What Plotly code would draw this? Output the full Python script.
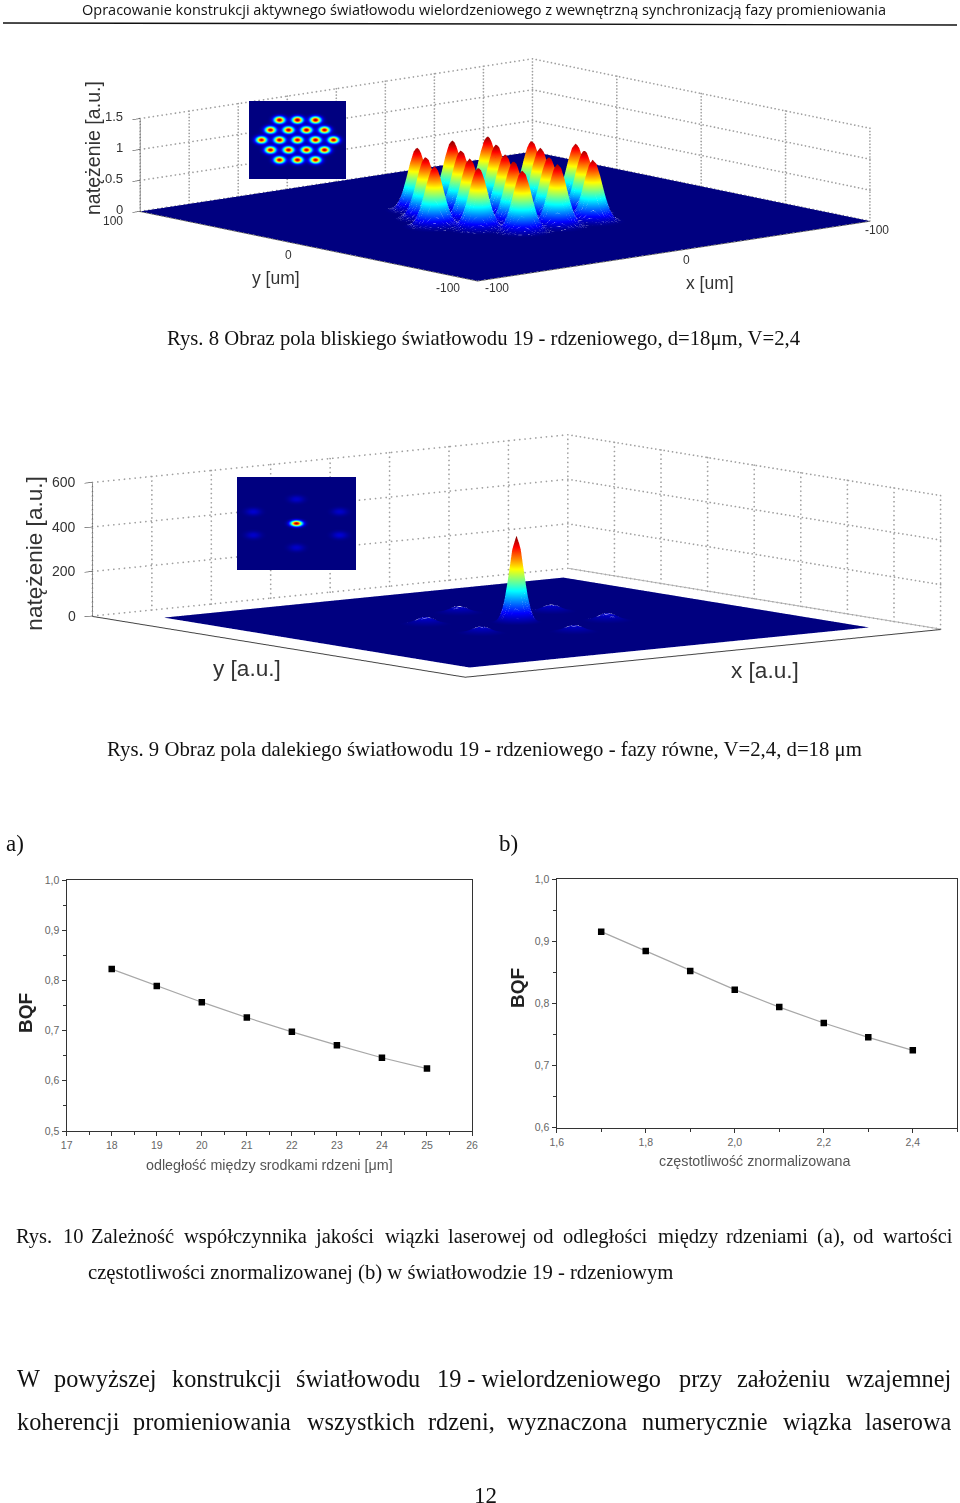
import numpy as np
import plotly.graph_objects as go

W, H = 960, 1503

# ---- chart a / b data
bqf_dist_x = [18, 19, 20, 21, 22, 23, 24, 25]
bqf_dist_y = [0.8225, 0.789, 0.7566, 0.726, 0.6975, 0.671, 0.646, 0.6243]
bqf_freq_x = [1.7, 1.8, 1.9, 2.0, 2.1, 2.2, 2.3, 2.4]
bqf_freq_y = [0.9153, 0.8842, 0.852, 0.822, 0.794, 0.7684, 0.7453, 0.7244]

# ---- near field: the 19 cores (um) and their peak heights (a.u.)
near_core_x = [-18, 0, 18, -27, -9, 9, 27, -36, -18, 0, 18, 36, -27, -9, 9, 27, -18, 0, 18]
near_core_y = [31.2, 31.2, 31.2, 15.6, 15.6, 15.6, 15.6, 0, 0, 0, 0, 0, -15.6, -15.6, -15.6, -15.6, -31.2, -31.2, -31.2]
near_core_h = [1.02, 1.05, 1.03, 1.0, 1.02, 1.03, 1.0, 0.98, 1.02, 1.0, 1.02, 1.0, 1.0, 1.02, 1.0, 1.02, 1.0, 1.02, 1.0]

# ---- far field: main lobe and six side lobes (a.u.)
far_lobe_x = [0, 26.5, 26.5, 0, -26.5, -26.5, 0]
far_lobe_y = [0, 15, -15, -31, -15, 15, 31]
far_lobe_h = [390, 30, 34, 30, 30, 32, 30]

near_x_ticks = list(range(-100, 101, 25))
near_y_ticks = list(range(-100, 101, 50))
near_z_ticks = [0, .5, 1, 1.5]
far_x_ticks = list(range(-100, 101, 25))
far_y_ticks = list(range(-100, 101, 25))
far_z_ticks = [0, 200, 400, 600]

MJET = [[0, "rgb(0,0,128)"], [.125, "rgb(0,0,255)"], [.375, "rgb(0,255,255)"],
        [.625, "rgb(255,255,0)"], [.875, "rgb(255,0,0)"], [1, "rgb(128,0,0)"]]


def field(gx, gy, cx, cy, h, s):
    X, Y = np.meshgrid(gx, gy)
    Z = np.zeros_like(X, dtype=float)
    for i, (a, b, c) in enumerate(zip(cx, cy, h)):
        sg = s[i] if isinstance(s, list) else s
        Z += c * np.exp(-((X - a) ** 2 + (Y - b) ** 2) / (2 * sg * sg))
    return np.round(Z, 4)


def gaps(z, top, step, low):
    """Open cells of the mesh: white specks on the lower flanks, as in the mesh plot."""
    I, J = np.indices(z.shape)
    r = z / top
    w = np.clip((0.5 - r) / 0.25, 0, 1) * (r > low)
    return np.round(w * ((I % step == 0) & ((J + (I // step) % 2) % step == 0)), 3)


near_g = np.arange(-100, 101, 1.0)
near_z = field(near_g, near_g, near_core_x, near_core_y, near_core_h, 3.6)
far_gx = np.arange(-84, 85, 1.0)
far_gy = np.arange(-82, 83, 1.0)
far_z = field(far_gx, far_gy, far_lobe_x, far_lobe_y, far_lobe_h, [2.4, 3.2, 3.2, 3.2, 3.2, 3.2, 3.2])

FLAT = dict(ambient=1, diffuse=0, specular=0, roughness=1, fresnel=0)
fig = go.Figure()


def px_dom(x0, x1, y0, y1):
    return dict(x=[x0 / W, x1 / W], y=[1 - y1 / H, 1 - y0 / H])


def eye(t_deg, e_deg, d):
    t, e = np.radians(t_deg), np.radians(e_deg)
    return dict(x=-d * np.cos(t) * np.cos(e), y=-d * np.sin(t) * np.cos(e), z=d * np.sin(e))


def ax3(rng, vals, line="#222", lw=1, ticks="", ticklen=0):
    return dict(range=rng, tickvals=vals, showticklabels=False, title=dict(text=""),
                showgrid=False, zeroline=False,
                showbackground=False, showline=True, linecolor=line, linewidth=lw,
                ticks=ticks, ticklen=ticklen, tickcolor="#222", showspikes=False, autorange=False)


def s_ann(x, y, z, text, xs=0, ys=0, size=13, angle=0, anchor="center"):
    return dict(x=x, y=y, z=z, text=text, showarrow=False, xshift=xs, yshift=ys, textangle=angle,
                xanchor=anchor, font=dict(family="Liberation Sans", size=size, color="#333"))


def walls(scene, xt, yt, zt, n=90):
    """Dotted grid on the two back walls, taken from the tick lists."""
    xs, ys, zs = [], [], []
    x1, y1 = xt[-1], yt[-1]
    zz = np.linspace(zt[0], zt[-1], n // 3)
    for v in xt:
        xs += [v] * len(zz); ys += [y1] * len(zz); zs += list(zz)
    for v in yt:
        xs += [x1] * len(zz); ys += [v] * len(zz); zs += list(zz)
    xx = np.linspace(xt[0], x1, n)
    yy = np.linspace(yt[0], y1, n)
    for v in zt:
        xs += list(xx); ys += [y1] * n; zs += [v] * n
        xs += [x1] * n; ys += list(yy); zs += [v] * n
    fig.add_trace(go.Scatter3d(x=xs, y=ys, z=zs, scene=scene, mode="markers", hoverinfo="skip",
                               marker=dict(color="#a0a0a0", size=1, line=dict(width=0))))


walls("scene", near_x_ticks, near_y_ticks, near_z_ticks)
walls("scene2", far_x_ticks, far_y_ticks, far_z_ticks)
fig.add_trace(go.Scatter3d(x=[far_x_ticks[-1]] * 2, y=[far_y_ticks[-1], far_y_ticks[0]], z=[0, 0], scene="scene2",
                           mode="lines", hoverinfo="skip", line=dict(color="#b5b5b5", width=2)))

# main surfaces
fig.add_trace(go.Surface(x=near_g, y=near_g, z=near_z, scene="scene", colorscale=MJET, cmin=0, cmax=1.05,
                         showscale=False, lighting=FLAT, hoverinfo="skip"))
fig.add_trace(go.Surface(x=near_g, y=near_g, z=near_z + .004, surfacecolor=gaps(near_z, 1.05, 2, .012), scene="scene",
                         colorscale=[[0, "white"], [1, "white"]], cmin=0, cmax=1, opacityscale=[[0, 0], [.05, 0], [1, 1]],
                         showscale=False, lighting=FLAT, hoverinfo="skip"))
fig.add_trace(go.Surface(x=far_gx, y=far_gy, z=far_z, scene="scene2", colorscale=MJET, cmin=0, cmax=390,
                         showscale=False, lighting=FLAT, hoverinfo="skip"))
fig.add_trace(go.Surface(x=far_gx, y=far_gy, z=far_z + 1.5, surfacecolor=gaps(far_z, 390, 2, .055), scene="scene2",
                         colorscale=[[0, "white"], [1, "white"]], cmin=0, cmax=1, opacityscale=[[0, 0], [.05, 0], [1, 1]],
                         showscale=False, lighting=FLAT, hoverinfo="skip"))
# insets, seen from directly above
fig.add_trace(go.Surface(x=near_g, y=near_g, z=np.zeros_like(near_z), surfacecolor=near_z, scene="scene3",
                         colorscale=MJET, cmin=0, cmax=1.05, showscale=False, lighting=FLAT, hoverinfo="skip"))
fig.add_trace(go.Surface(x=far_gx, y=far_gy, z=np.zeros_like(far_z), surfacecolor=far_z, scene="scene4",
                         colorscale=MJET, cmin=0, cmax=390, showscale=False, lighting=FLAT, hoverinfo="skip"))

near_ann = [s_ann(-100, 100, v, t, xs=-15, ys=2, anchor="right") for v, t in zip(near_z_ticks, ["0", "0.5", "1", "1.5"])]
near_ann += [s_ann(-100, 100, 0, "100", xs=-27, ys=-10, size=12),
             s_ann(-100, 0, 0, "0", xs=-20, ys=-9, size=12),
             s_ann(-100, -100, 0, "-100", xs=-30, ys=-7, size=12),
             s_ann(-100, -100, 0, "-100", xs=19, ys=-7, size=12),
             s_ann(0, -100, 0, "0", xs=13, ys=-9, size=12),
             s_ann(100, -100, 0, "-100", xs=7, ys=-9, size=12),
             s_ann(-100, 0, 0, "y [um]", xs=-33, ys=-32, size=17.5),
             s_ann(0, -100, 0, "x [um]", xs=36, ys=-32, size=17.5),
             s_ann(-100, 100, .75, "natężenie [a.u.]", xs=-47, ys=17, size=19.6, angle=-90)]
far_ann = [s_ann(-100, 100, v, str(v), xs=-14, anchor="right", size=14) for v in far_z_ticks]
far_ann += [s_ann(-100, 0, 0, "y [a.u.]", xs=-32, ys=-22, size=22.6),
            s_ann(0, -100, 0, "x [a.u.]", xs=62, ys=-18, size=22.6),
            s_ann(-100, 100, 300, "natężenie [a.u.]", xs=-58, ys=-4, size=22.6, angle=-90)]

layout_scene = dict(
    scene=dict(domain=px_dom(50, 960, 32, 308), camera=dict(eye=eye(49.3, 10.2, 10), projection=dict(type="orthographic")),
               aspectmode="manual", aspectratio=dict(x=3.75, y=3.75, z=.686), bgcolor="rgba(0,0,0,0)",
               xaxis=ax3([-100, 100], near_x_ticks),
               yaxis=ax3([-100, 100], near_y_ticks),
               zaxis=ax3([-0.006, 1.5], near_z_ticks, ticks="outside", ticklen=8),
               annotations=near_ann),
    scene2=dict(domain=px_dom(73, 960, 416, 696), camera=dict(eye=eye(51.9, 7.35, 10), projection=dict(type="orthographic")),
                aspectmode="manual", aspectratio=dict(x=4.315, y=4.315, z=.965), bgcolor="rgba(0,0,0,0)",
                xaxis=ax3([-100, 100], far_x_ticks, line="#444", lw=2),
                yaxis=ax3([-100, 100], far_y_ticks, line="#444", lw=2),
                zaxis=ax3([-2, 600], far_z_ticks, ticks="outside", ticklen=8),
                annotations=far_ann),
)
off = dict(visible=False)
for name, dom, rx, ry, ar in [("scene3", px_dom(249, 346, 101, 179), [-48.5, 48.5], [-61, 61], dict(x=2.49, y=2.0, z=.01)),
                              ("scene4", px_dom(237, 356, 477, 570), [-35.5, 35.5], [-57.7, 57.7], dict(x=2.49, y=1.94, z=.01))]:
    layout_scene[name] = dict(domain=dom, bgcolor="rgb(0,0,128)", aspectmode="manual", aspectratio=ar,
                              camera=dict(eye=dict(x=0, y=0, z=4), up=dict(x=0, y=1, z=0), projection=dict(type="orthographic")),
                              xaxis=dict(range=rx, **off), yaxis=dict(range=ry, **off), zaxis=dict(range=[-1, 1], **off))

# ---- 2-D charts
fig.add_trace(go.Scatter(x=bqf_dist_x, y=bqf_dist_y, xaxis="x", yaxis="y", mode="lines+markers",
                         line=dict(color="#a8a8a8", width=1.2), marker=dict(symbol="square", size=6.5, color="#000")))
fig.add_trace(go.Scatter(x=bqf_freq_x, y=bqf_freq_y, xaxis="x2", yaxis="y2", mode="lines+markers",
                         line=dict(color="#a8a8a8", width=1.2), marker=dict(symbol="square", size=6.5, color="#000")))


def ax2(dom, rng, dtick, minor):
    return dict(domain=dom, range=rng, dtick=dtick, tick0=rng[0], showgrid=False, zeroline=False, showline=True, mirror=True,
                linecolor="#333", linewidth=1.4, ticks="outside", ticklen=4, tickwidth=1, tickcolor="#333",
                tickformat=".1f", tickfont=dict(family="Liberation Sans", size=10.5, color="#666"),
                minor=dict(dtick=minor, ticks="outside", ticklen=3, tickcolor="#333"))


xa = ax2([66.7 / W, 472 / W], [17, 26], 1, .5)
xa["tickformat"] = "d"
ya = ax2([1 - 1131 / H, 1 - 880 / H], [.5, 1.0], .1, .05)
xb = ax2([556.7 / W, 957.3 / W], [1.6, 2.5], .2, .1)
yb = ax2([1 - 1127.7 / H, 1 - 879 / H], [.6, 1.0], .1, .05)
ya.update(anchor="x"); xa.update(anchor="y"); yb.update(anchor="x2"); xb.update(anchor="y2")


def t(x, y, text, size=20, family="Liberation Serif", color="#111", anchor="left", angle=0, bold=False):
    if bold:
        text = "<b>" + text + "</b>"
    return dict(xref="paper", yref="paper", x=x / W, y=1 - y / H, text=text, showarrow=False, xanchor=anchor, yanchor="middle",
                textangle=angle, font=dict(family=family, size=size, color=color))


caption_10_words = ["Rys.", "10", "Zależność", "współczynnika", "jakości", "wiązki", "laserowej", "od", "odległości", "między", "rdzeniami", "(a),", "od", "wartości"]
caption_10_x = [14, 61, 89, 182, 313, 383, 446, 531, 561, 656, 724, 815, 851, 881]
body_1_words = ["W", "powyższej", "konstrukcji", "światłowodu", "19 - wielordzeniowego", "przy", "założeniu", "wzajemnej"]
body_1_x = [15, 52, 170, 294, 435, 677, 735, 844]
body_2_words = ["koherencji", "promieniowania", "wszystkich", "rdzeni,", "wyznaczona", "numerycznie", "wiązka", "laserowa"]
body_2_x = [15, 131, 305, 426, 505, 640, 781, 863]

anns = [t(484, 9, "Opracowanie konstrukcji aktywnego światłowodu wielordzeniowego z wewnętrzną synchronizacją fazy promieniowania",
          size=14.5, family="Open Sans", anchor="center"),
        t(484, 339, "Rys. 8 Obraz pola bliskiego światłowodu 19 - rdzeniowego, d=18μm, V=2,4", size=20.7, anchor="center"),
        t(484, 749, "Rys. 9 Obraz pola dalekiego światłowodu 19 - rdzeniowego - fazy równe, V=2,4, d=18 μm", size=20.75, anchor="center"),
        t(4, 844, "a)", size=23), t(497, 844, "b)", size=23),
        t(86, 1272, "częstotliwości znormalizowanej (b) w światłowodzie 19 - rdzeniowym", size=20.7),
        t(485, 1495, "12", size=23, anchor="center"),
        t(269, 1165, "odległość między srodkami rdzeni [μm]", size=14.3, family="Liberation Sans", color="#555", anchor="center"),
        t(755, 1161, "częstotliwość znormalizowana", size=14.3, family="Liberation Sans", color="#555", anchor="center"),
        t(25, 1013, "BQF", size=19, family="Liberation Sans", color="#222", anchor="center", angle=-90, bold=True),
        t(517, 988, "BQF", size=19, family="Liberation Sans", color="#222", anchor="center", angle=-90, bold=True)]
anns += [t(x, 1236, w, size=20.5) for x, w in zip(caption_10_x, caption_10_words)]
anns += [t(x, 1378, w, size=24.3) for x, w in zip(body_1_x, body_1_words)]
anns += [t(x, 1421, w, size=24.3) for x, w in zip(body_2_x, body_2_words)]

fig.update_layout(width=W, height=H, margin=dict(l=0, r=0, t=0, b=0, autoexpand=False), paper_bgcolor="white", plot_bgcolor="white",
                  showlegend=False, separators=",.", xaxis=xa, yaxis=ya, xaxis2=xb, yaxis2=yb, annotations=anns,
                  shapes=[dict(type="line", xref="paper", yref="paper", x0=3 / W, x1=957 / W, y0=1 - 23 / H, y1=1 - 25 / H,
                               line=dict(color="#111", width=1.4))],
                  **layout_scene)

fig.write_html("out.html", post_script="document.body.style.margin='0';", config=dict(displayModeBar=False))
